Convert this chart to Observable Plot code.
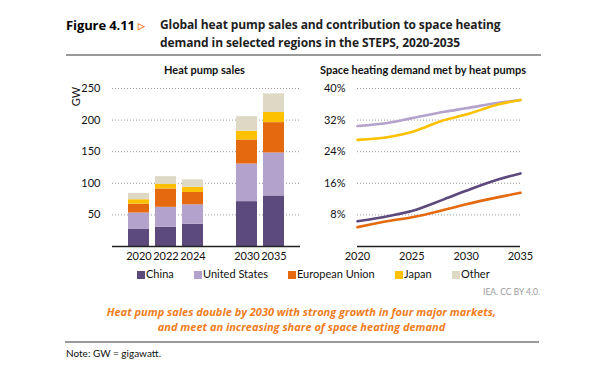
<!DOCTYPE html>
<html>
<head>
<meta charset="utf-8">
<script src="https://cdn.jsdelivr.net/npm/d3@7"></script>
<script src="https://cdn.jsdelivr.net/npm/@observablehq/plot@0.6"></script>
<style>
  body { margin: 0; background: #fff; width: 603px; height: 371px; overflow: hidden; position: relative; font-family: Lato, "Open Sans", sans-serif; }
  .abs { position: absolute; white-space: nowrap; }
  .title { font-family: "Open Sans", sans-serif; font-weight: 700; font-size: 12px; color: #1e1e1e; line-height: 18px; letter-spacing: -0.1px; }
  .sub { font-family: Lato, sans-serif; font-weight: 700; font-size: 11px; color: #111; }
  .leg { font-size: 11px; color: #111; }
  .sw { position: absolute; width: 8px; height: 8px; }
  .caption { font-family: "Open Sans", sans-serif; font-weight: 700; font-style: italic; font-size: 11px; color: #ef7d22; text-align: center; line-height: 15px; }
  .rule { position: absolute; height: 2px; background: #9a9a9a; }
</style>
</head>
<body>
<script>
// ---- data ----
const regions = ["China", "United States", "European Union", "Japan", "Other"];
const colors = ["#5c4a7d", "#b3a2cb", "#e4690f", "#fdc100", "#ddd9c5"];

const saleYears = ["2020", "2022", "2024", "2030", "2035"];
const salesChina = [27, 30.5, 35, 71, 80];
const salesUS = [26, 31.5, 31, 59.5, 68];
const salesEU = [14, 29, 19.5, 38, 48];
const salesJapan = [7, 7.5, 8, 14, 16];
const salesOther = [10, 12, 12, 23, 29.5];
const salesTicks = [50, 100, 150, 200, 250];

const shareYears = [2020, 2023, 2025, 2028, 2030, 2033, 2035];
const shareChina = [6.4, 7.8, 9.0, 12.0, 14.1, 17.0, 18.5];
const shareUS = [30.5, 31.4, 32.5, 34.1, 35.0, 36.4, 37.1];
const shareEU = [4.9, 6.5, 7.4, 9.3, 10.7, 12.5, 13.6];
const shareJapan = [27.0, 27.8, 29.0, 32.0, 33.4, 36.0, 37.1];
const shareTicks = [8, 16, 24, 32, 40];
const shareXTicks = [2020, 2025, 2030, 2035];

// ---- tables ----
const salesSeries = [salesChina, salesUS, salesEU, salesJapan, salesOther];
const sales = [];
regions.forEach((r, i) => saleYears.forEach((y, j) => sales.push({year: y, region: r, value: salesSeries[i][j]})));

const shareRegions = ["China", "United States", "European Union", "Japan"];
const shareSeries = [shareChina, shareUS, shareEU, shareJapan];
const share = [];
shareRegions.forEach((r, i) => shareYears.forEach((y, j) => share.push({year: y, region: r, value: shareSeries[i][j]})));

const color = {domain: regions, range: colors};
const font = "Lato, 'Open Sans', sans-serif";
const grid = {stroke: "#9a9a9a", strokeDasharray: "1,2", strokeWidth: 1};

// ---- left: bars ----
const bandDomain = [saleYears[0], saleYears[1], saleYears[2], "gap", saleYears[3], saleYears[4]];
const left = Plot.plot({
  width: 250, height: 216,
  marginLeft: 62, marginRight: 0, marginTop: 28, marginBottom: 30,
  style: {fontFamily: font, fontSize: "11px", color: "#111", background: "transparent"},
  x: {domain: bandDomain, paddingInner: 0.236, paddingOuter: 0.536, tickSize: 0, tickPadding: 6, tickFormat: d => d === "gap" ? "" : d, label: null},
  y: {domain: [0, 250], ticks: salesTicks, tickSize: 0, tickPadding: 12, label: null},
  color,
  marks: [
    Plot.ruleY(salesTicks, grid),
    Plot.barY(sales, {x: "year", y: "value", fill: "region", order: regions}),
    Plot.ruleY([0], {stroke: "#222", strokeWidth: 1.5})
  ]
});
left.style.position = "absolute"; left.style.left = "50px"; left.style.top = "60px";
document.body.appendChild(left);

// ---- right: lines ----
const right = Plot.plot({
  width: 243, height: 216,
  marginLeft: 57, marginRight: 23, marginTop: 28, marginBottom: 30,
  style: {fontFamily: font, fontSize: "11px", color: "#111", background: "transparent", overflow: "visible"},
  x: {domain: [2020, 2035], ticks: shareXTicks, tickSize: 0, tickPadding: 6, tickFormat: d => String(d), label: null},
  y: {domain: [0, 40], ticks: shareTicks, tickSize: 0, tickPadding: 12, tickFormat: d => d + "%", label: null},
  color,
  marks: [
    Plot.ruleY(shareTicks, grid),
    Plot.line(share, {x: "year", y: "value", stroke: "region", curve: "monotone-x", strokeWidth: 2.6}),
    Plot.ruleY([0], {stroke: "#222", strokeWidth: 1.5})
  ]
});
right.style.position = "absolute"; right.style.left = "300px"; right.style.top = "60px";
document.body.appendChild(right);

// ---- texts ----
function addText(html, cls, left, top, extra) {
  const d = document.createElement("div");
  d.className = "abs " + cls;
  d.innerHTML = html;
  d.style.left = left + "px"; d.style.top = top + "px";
  if (extra) Object.assign(d.style, extra);
  document.body.appendChild(d);
  return d;
}
addText('<span style="color:#000;font-size:13px;font-weight:700">Figure 4.11</span> <span style="color:#ef7d22;font-size:9px;position:relative;top:-1px;">&#9655;</span>', "title", 66, 16);
addText("Global heat pump sales and contribution to space heating<br>demand in selected regions in the STEPS, 2020-2035", "title", 160, 16);
const r1 = document.createElement("div"); r1.className = "rule"; Object.assign(r1.style, {left: "66px", top: "54px", width: "475px"}); document.body.appendChild(r1);

addText("Heat pump sales", "sub", 164, 63);
addText("Space heating demand met by heat pumps", "sub", 320, 63);
addText("GW", "leg", 66, 90, {transform: "rotate(-90deg)", transformOrigin: "center"});

// legend
const legX = [137, 194, 288, 395, 452];
regions.forEach((r, i) => {
  const s = document.createElement("div");
  s.className = "sw";
  Object.assign(s.style, {left: legX[i] + "px", top: "271px", background: colors[i]});
  document.body.appendChild(s);
  addText(r, "leg", legX[i] + 9, 267);
});

addText("IEA. CC BY 4.0.", "leg", 483, 287, {fontSize: "8.5px", color: "#9a9a9a"});
addText("Heat pump sales double by 2030 with strong growth in four major markets,<br>and meet an increasing share of space heating demand", "caption", 0, 304, {width: "603px"});
const r2 = document.createElement("div"); r2.className = "rule"; Object.assign(r2.style, {left: "65px", top: "341px", width: "474px"}); document.body.appendChild(r2);
addText("Note: GW = gigawatt.", "leg", 66, 347, {fontSize: "10px"});
</script>
</body>
</html>
